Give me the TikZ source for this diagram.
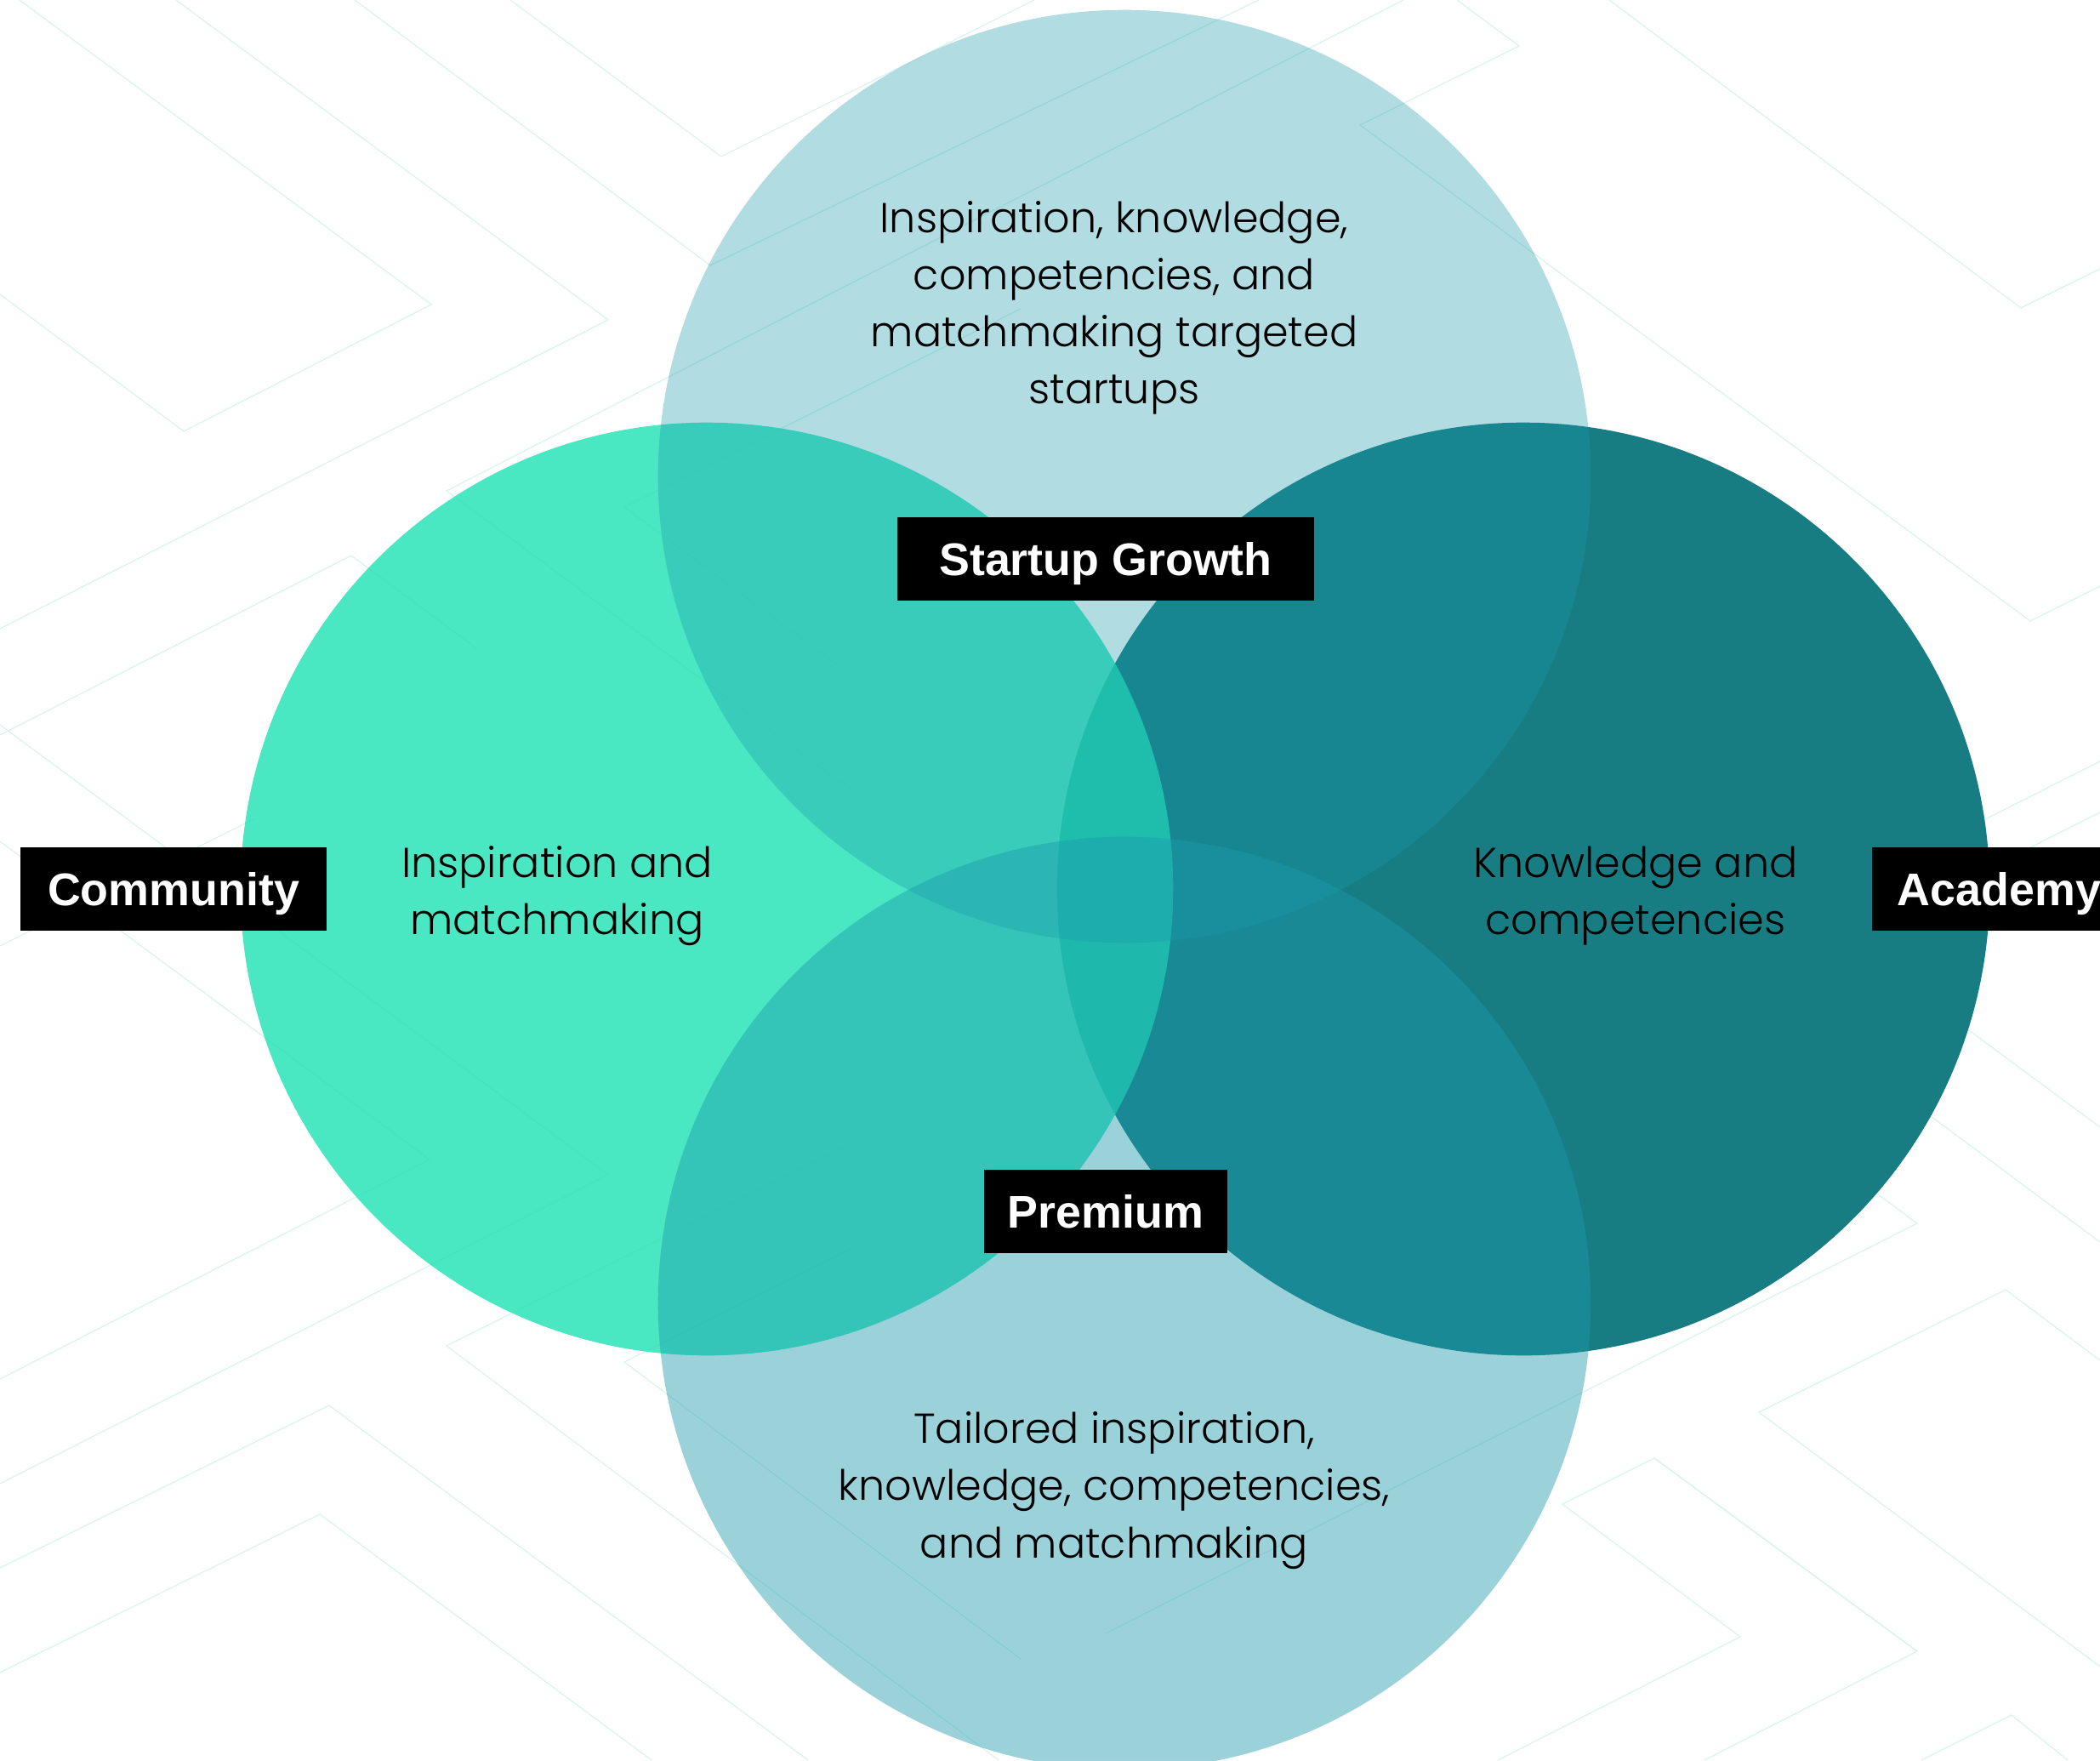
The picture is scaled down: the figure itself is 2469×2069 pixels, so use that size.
\documentclass[tikz,border=0pt]{standalone}
\usepackage{fontspec}
\setmainfont{Liberation Sans}
\newfontfamily\thinfont{Poppins Light}
\usepackage{tikz}

\definecolor{bgmint}{HTML}{D9F3ED}
\definecolor{communitygreen}{HTML}{25E3B6}
\definecolor{academyteal}{HTML}{177D83}
\definecolor{growthblue}{HTML}{1C99AB}
\definecolor{premiumblue}{HTML}{1C9AAC}

\tikzset{
    venncircle/.style={circle, inner sep=0pt, minimum size=10.96cm},
    tierlabel/.style={rectangle, fill=black, text=white, inner sep=0pt,
        minimum height=9.8mm, text height=11pt, text depth=0pt,
        font=\fontsize{15.3}{18}\selectfont\bfseries},
    tiertext/.style={align=center, text=black, inner sep=0pt,
        font=\thinfont\fontsize{14}{19.1}\selectfont},
    bgline/.style={draw=bgmint, line width=0.35pt, line join=miter},
}

\begin{document}
\begin{tikzpicture}[x=0.01cm, y=-0.01cm]
    \useasboundingbox (0,0) rectangle (2469,2069);
    \clip (0,0) rectangle (2469,2069);
    \fill[white] (0,0) rectangle (2469,2069);

    % faint chevrons behind the circles
    \draw[bgline] (23,0) -- (507,358) -- (216,507) -- (0,346);
    \draw[bgline] (207,0) -- (715,376) -- (0,739);
    \draw[bgline] (417,0) -- (835,312) -- (1480,0);
    \draw[bgline] (600,0) -- (848,184) -- (1216,0);
    \draw[bgline] (1650,0) -- (525,577) -- (1000,928);
    \draw[bgline] (1200,363) -- (734,596) -- (1000,793);
    \draw[bgline] (0,864) -- (413,653) -- (560,762);
    \draw[bgline] (0,989) -- (505,1363) -- (0,1621);
    \draw[bgline] (0,852) -- (715,1381) -- (0,1744);
    \draw[bgline] (1000,1345) -- (525,1582) -- (1174,2069);
    \draw[bgline] (1000,1468) -- (734,1601) -- (1200,1950);
    \draw[bgline] (0,1843) -- (387,1652) -- (950,2069);
    \draw[bgline] (0,1966) -- (376,1780) -- (766,2069);
    \draw[bgline] (0,1112) -- (300,962);
    \draw[bgline] (2150,1089) -- (2469,1325);
    \draw[bgline] (2100,1324) -- (2254,1438) -- (1300,1920);
    \draw[bgline] (2200,1260) -- (2469,1460);
    \draw[bgline] (2469,1599) -- (2358,1516) -- (2068,1660) -- (2469,1959);
    \draw[bgline] (2254,1941) -- (1945,1714) -- (1837,1768) -- (2046,1924) -- (1761,2069);
    \draw[bgline] (1945,1714) -- (2254,1941) -- (2004,2069);
    \draw[bgline] (2259,2069) -- (2365,2016) -- (2431,2069);
    \draw[bgline] (1713,0) -- (1786,54) -- (1599,147) -- (2387,730) -- (2469,689);
    \draw[bgline] (1892,0) -- (2376,362) -- (2469,316);
    \draw[bgline] (2260,1060) -- (2469,955);
    \draw[bgline] (2280,990) -- (2469,895);

    % the four tiers
    \node[venncircle, fill=academyteal] (academy) at (1791,1045) {};
    \node[venncircle, fill=communitygreen, fill opacity=0.83] (community) at (831,1045) {};
    \node[venncircle, fill=growthblue, fill opacity=0.34] (growth) at (1322,560) {};
    \node[venncircle, fill=premiumblue, fill opacity=0.44] (premium) at (1322,1532) {};

    \node[tiertext] (growthtext) at (1310,362) {Inspiration, knowledge,\\competencies, and\\matchmaking targeted\\startups};
    \node[tiertext] (communitytext) at (655,1053) {Inspiration and\\matchmaking};
    \node[tiertext] (academytext) at (1923,1053) {Knowledge and\\competencies};
    \node[tiertext] (premiumtext) at (1310,1752) {Tailored inspiration,\\knowledge, competencies,\\and matchmaking};

    \node[tierlabel, minimum width=49mm] (growthlabel) at (1300,657) {Startup Growth};
    \node[tierlabel, minimum width=35.9mm] (communitylabel) at (204,1045) {Community};
    \node[tierlabel, minimum width=32mm, anchor=west, inner xsep=3mm, text width=26mm] (academylabel) at (2200,1045) {Academy};
    \node[tierlabel, minimum width=28.5mm] (premiumlabel) at (1300,1424) {Premium};
\end{tikzpicture}
\end{document}
